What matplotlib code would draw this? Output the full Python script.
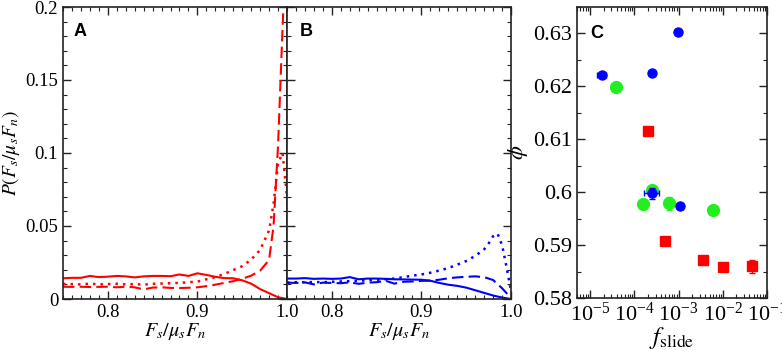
import numpy as np
import matplotlib
matplotlib.use("Agg")
import matplotlib.pyplot as plt
from matplotlib.ticker import MultipleLocator, LogLocator, NullFormatter, FuncFormatter

plt.rcParams['font.family'] = ['Liberation Serif', 'DejaVu Serif']
plt.rcParams['mathtext.fontset'] = 'stix'

# ---------------- data ----------------
# Panel A (red)
xA_solid = [0.75, 0.76, 0.77, 0.78, 0.79, 0.80, 0.81, 0.82, 0.83, 0.84, 0.85, 0.86, 0.87,
            0.88, 0.89, 0.90, 0.91, 0.92, 0.93, 0.94, 0.95, 0.96, 0.97, 0.98, 0.99, 1.00]
yA_solid = [0.0142, 0.0145, 0.0145, 0.0158, 0.0150, 0.0153, 0.0158, 0.0155, 0.0148, 0.0155,
            0.0158, 0.0158, 0.0156, 0.0168, 0.0158, 0.0176, 0.0165, 0.0152, 0.0143, 0.0142,
            0.0128, 0.0105, 0.0068, 0.0040, 0.0012, 0.0000]
xA_dot = [0.75, 0.76, 0.77, 0.78, 0.79, 0.80, 0.81, 0.82, 0.83, 0.84, 0.85, 0.86, 0.87,
          0.88, 0.89, 0.90, 0.91, 0.92, 0.93, 0.94, 0.95, 0.96, 0.97, 0.98, 0.985, 0.99, 0.995, 1.00]
yA_dot = [0.0103, 0.0102, 0.0100, 0.0105, 0.0100, 0.0102, 0.0104, 0.0100, 0.0102, 0.0098,
          0.0104, 0.0106, 0.0108, 0.0110, 0.0115, 0.0119, 0.0135, 0.0150, 0.0172, 0.0198,
          0.0225, 0.0270, 0.0336, 0.0470, 0.0650, 0.0930, 0.1000, 0.0700]
xA_dash = [0.75, 0.76, 0.77, 0.78, 0.79, 0.80, 0.81, 0.82, 0.83, 0.84, 0.85, 0.86, 0.87,
           0.88, 0.89, 0.90, 0.91, 0.92, 0.93, 0.94, 0.95, 0.96, 0.97, 0.98, 0.985, 0.99, 0.995, 1.00]
yA_dash = [0.0084, 0.0083, 0.0084, 0.0082, 0.0083, 0.0084, 0.0080, 0.0084, 0.0080, 0.0066,
           0.0078, 0.0080, 0.0076, 0.0075, 0.0077, 0.0080, 0.0088, 0.0098, 0.0110, 0.0122,
           0.0138, 0.0160, 0.0194, 0.0267, 0.0500, 0.1050, 0.1850, 0.2600]

# Panel B (blue)
xB_solid = [0.75, 0.76, 0.77, 0.78, 0.79, 0.80, 0.81, 0.82, 0.83, 0.84, 0.85, 0.86, 0.87,
            0.88, 0.89, 0.90, 0.91, 0.92, 0.93, 0.94, 0.95, 0.96, 0.97, 0.98, 0.99, 1.00]
yB_solid = [0.0140, 0.0140, 0.0143, 0.0138, 0.0140, 0.0138, 0.0140, 0.0150, 0.0135, 0.0140,
            0.0140, 0.0138, 0.0135, 0.0134, 0.0133, 0.0132, 0.0125, 0.0110, 0.0098, 0.0090,
            0.0078, 0.0060, 0.0042, 0.0024, 0.0010, 0.0000]
xB_dot = [0.75, 0.76, 0.77, 0.78, 0.79, 0.80, 0.81, 0.82, 0.83, 0.84, 0.85, 0.86, 0.87,
          0.88, 0.89, 0.90, 0.91, 0.92, 0.93, 0.94, 0.95, 0.96, 0.97, 0.975, 0.98, 0.985, 0.99, 0.995, 1.00]
yB_dot = [0.0112, 0.0115, 0.0114, 0.0116, 0.0115, 0.0118, 0.0120, 0.0122, 0.0125, 0.0128,
          0.0132, 0.0135, 0.0140, 0.0150, 0.0160, 0.0168, 0.0180, 0.0195, 0.0212, 0.0235,
          0.0260, 0.0295, 0.0340, 0.0380, 0.0430, 0.0448, 0.0370, 0.0220, 0.0055]
xB_dash = [0.75, 0.76, 0.77, 0.78, 0.79, 0.80, 0.81, 0.82, 0.83, 0.84, 0.85, 0.86, 0.87,
           0.88, 0.89, 0.90, 0.91, 0.92, 0.93, 0.94, 0.95, 0.96, 0.97, 0.98, 0.99, 1.00]
yB_dash = [0.0112, 0.0110, 0.0114, 0.0100, 0.0112, 0.0110, 0.0108, 0.0114, 0.0104, 0.0112,
           0.0115, 0.0125, 0.0105, 0.0118, 0.0120, 0.0124, 0.0126, 0.0132, 0.0142, 0.0148,
           0.0152, 0.0155, 0.0150, 0.0130, 0.0074, 0.0007]

# Panel C
blue_x = [1.8e-5, 2.45e-4, 9.8e-4, 2.45e-4, 1.07e-3]
blue_y = [0.6221, 0.6225, 0.6303, 0.5998, 0.5973]
blue_xerr_dec = [0.10, 0.0, 0.0, 0.17, 0.0]
blue_yerr = [0.0003, 0.0003, 0.0003, 0.0010, 0.0003]

green_x = [3.8e-5, 1.53e-4, 2.45e-4, 6.05e-4, 6.1e-3]
green_y = [0.6198, 0.5978, 0.6005, 0.5979, 0.5966]
green_yerr = [0.0002, 0.0008, 0.0004, 0.0012, 0.0003]

red_x = [2.06e-4, 4.9e-4, 3.5e-3, 1.03e-2, 4.5e-2]
red_y = [0.6116, 0.5907, 0.5871, 0.5859, 0.5860]
red_yerr = [0.0003, 0.0002, 0.0005, 0.0002, 0.0012]

RED = '#ff0000'
BLUE = '#0000ff'
GREEN = '#22ee22'

W, H = 782, 351
fig = plt.figure(figsize=(W / 100, H / 100), dpi=100)

def fr(x0, y_top, x1, y_bot):
    return [x0 / W, 1 - y_bot / H, (x1 - x0) / W, (y_bot - y_top) / H]

axA = fig.add_axes(fr(63, 7, 287, 299))
axB = fig.add_axes(fr(287, 7, 511, 299))
axC = fig.add_axes(fr(577, 7, 767, 298))

for ax, fs in ((axA, 13.5), (axB, 13.5), (axC, 16)):
    for s in ax.spines.values():
        s.set_linewidth(1.2)
        s.set_color('#222222')
    ax.tick_params(which='both', direction='in', top=True, right=True,
                   labelsize=fs, color='#222222')
    ax.tick_params(which='major', length=5.5, width=1.0)
    ax.tick_params(which='minor', length=2.8, width=0.8)

lw = 1.5
dash = (0, (5.5, 2.5))
dot = (0, (1, 2))
for ax, col, data in ((axA, RED, ((xA_solid, yA_solid, '-'), (xA_dot, yA_dot, dot), (xA_dash, yA_dash, dash))),
                      (axB, BLUE, ((xB_solid, yB_solid, '-'), (xB_dot, yB_dot, dot), (xB_dash, yB_dash, dash)))):
    for x, y, ls in data:
        ax.plot(x, y, color=col, lw=1.8 if ls is dot else lw, linestyle=ls, clip_on=True)
    ax.set_xlim(0.75, 1.0)
    ax.set_ylim(0, 0.2)
    ax.xaxis.set_major_locator(MultipleLocator(0.1))
    ax.xaxis.set_minor_locator(MultipleLocator(0.01))
    ax.yaxis.set_major_locator(MultipleLocator(0.05))
    ax.yaxis.set_minor_locator(MultipleLocator(0.01))
    ax.set_xlabel(r'$F_s/\mu_s F_n$', fontsize=14.5, labelpad=0)

axA.xaxis.set_major_formatter(FuncFormatter(lambda v, p: '%.1f' % v if v > 0.76 else ''))
axB.xaxis.set_major_formatter(FuncFormatter(lambda v, p: '%.1f' % v if v > 0.76 else ''))
axA.yaxis.set_major_formatter(FuncFormatter(lambda v, p: '%g' % round(v, 3)))
axB.yaxis.set_major_formatter(NullFormatter())
axA.set_ylabel(r'$P(F_s/\mu_s F_n)$', fontsize=14, labelpad=2)

# Panel C
bx = np.array(blue_x)
bxe = np.array(blue_xerr_dec)
xlo = bx - bx / 10 ** bxe
xhi = bx * 10 ** bxe - bx
axC.errorbar(blue_x, blue_y, xerr=[xlo, xhi], yerr=blue_yerr, fmt='o', color=BLUE,
             ms=6.5, elinewidth=1.0, capsize=2.5, zorder=3)
axC.errorbar(green_x, green_y, yerr=green_yerr, fmt='o', color=GREEN,
             ms=8.5, elinewidth=1.0, capsize=2.5, zorder=2)
axC.errorbar(red_x, red_y, yerr=red_yerr, fmt='s', color=RED,
             ms=7, elinewidth=1.0, capsize=2.5, zorder=2)
axC.set_xscale('log')
axC.set_xlim(5e-6, 1e-1)
axC.set_ylim(0.58, 0.635)
axC.xaxis.set_major_locator(LogLocator(base=10, numticks=10))
axC.xaxis.set_minor_locator(LogLocator(base=10, subs=np.arange(2, 10), numticks=20))
axC.xaxis.set_minor_formatter(NullFormatter())
axC.yaxis.set_major_locator(MultipleLocator(0.01))
axC.yaxis.set_minor_locator(MultipleLocator(0.005))
axC.yaxis.set_major_formatter(FuncFormatter(lambda v, p: '%g' % round(v, 3)))
axC.set_xlabel(r'$f_{\mathrm{slide}}$', fontsize=18, labelpad=-1)
axC.set_ylabel(r'$\phi$', fontsize=16, labelpad=2)

lbl = dict(fontsize=13, fontweight='bold', family=['Liberation Sans', 'DejaVu Sans'], va='top', ha='left')
axA.text(0.045, 0.945, 'A', transform=axA.transAxes, **lbl)
axB.text(0.058, 0.945, 'B', transform=axB.transAxes, **lbl)
axC.text(0.068, 0.938, 'C', transform=axC.transAxes, **lbl)

fig.savefig('out.png', dpi=100)
